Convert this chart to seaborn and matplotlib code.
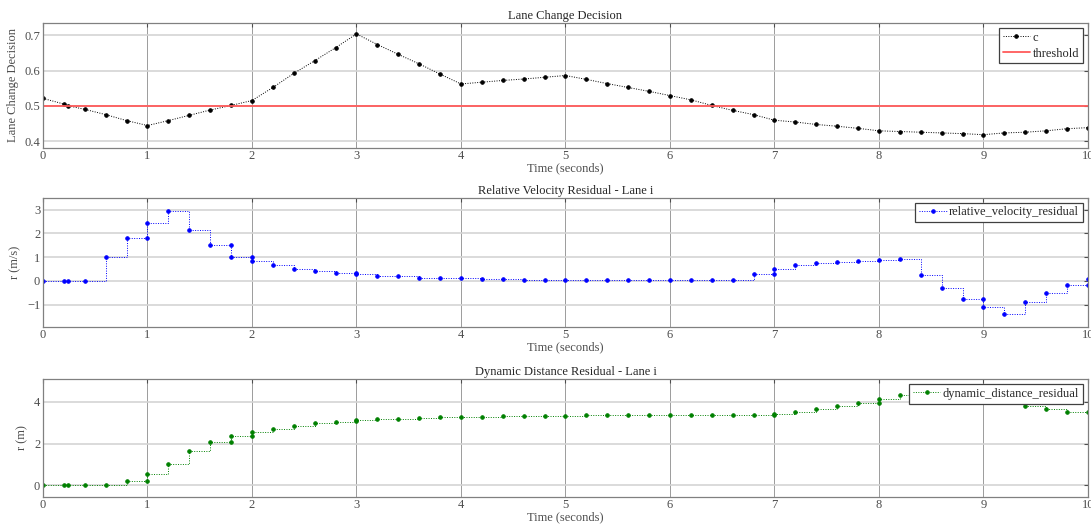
import pandas as pd
import matplotlib
matplotlib.use('Agg')
import matplotlib.pyplot as plt
import seaborn as sns

# values
t_c = [0, 0.2, 0.24, 0.4, 0.6, 0.8, 1.0, 1.2, 1.4, 1.6, 1.8, 2.0, 2.2, 2.4, 2.6, 2.8, 3.0,
       3.2, 3.4, 3.6, 3.8, 4.0, 4.2, 4.4, 4.6, 4.8, 5.0, 5.2, 5.4, 5.6, 5.8, 6.0, 6.2, 6.4,
       6.6, 6.8, 7.0, 7.2, 7.4, 7.6, 7.8, 8.0, 8.2, 8.4, 8.6, 8.8, 9.0, 9.2, 9.4, 9.6, 9.8, 10.0]
c = [0.521, 0.505, 0.500, 0.490, 0.475, 0.458, 0.444, 0.458, 0.473, 0.488, 0.501, 0.515,
     0.552, 0.592, 0.628, 0.665, 0.704, 0.674, 0.646, 0.619, 0.590, 0.562, 0.567, 0.572,
     0.576, 0.581, 0.586, 0.575, 0.563, 0.552, 0.541, 0.529, 0.517, 0.501, 0.487, 0.475,
     0.459, 0.454, 0.447, 0.442, 0.436, 0.429, 0.427, 0.425, 0.423, 0.421, 0.418, 0.423,
     0.425, 0.429, 0.435, 0.438]
threshold = 0.5

t_v = [0, 0.2, 0.24, 0.4, 0.6, 0.8, 1.0, 1.0, 1.2, 1.4, 1.6, 1.8, 1.8, 2.0, 2.0, 2.2, 2.4,
       2.6, 2.8, 3.0, 3.0, 3.2, 3.4, 3.6, 3.8, 4.0, 4.2, 4.4, 4.6, 4.8, 5.0, 5.2, 5.4, 5.6,
       5.8, 6.0, 6.2, 6.4, 6.6, 6.8, 7.0, 7.0, 7.2, 7.4, 7.6, 7.8, 8.0, 8.2, 8.4, 8.6, 8.8,
       9.0, 9.0, 9.2, 9.4, 9.6, 9.8, 10.0, 10.0]
v = [0, 0, 0, 0, 1.0, 1.8, 1.8, 2.43, 2.94, 2.14, 1.53, 1.53, 1.02, 1.02, 0.82, 0.66, 0.52,
     0.43, 0.34, 0.32, 0.29, 0.22, 0.19, 0.14, 0.13, 0.11, 0.08, 0.08, 0.06, 0.06, 0.06,
     0.03, 0.03, 0.03, 0.03, 0.03, 0.03, 0.03, 0.03, 0.29, 0.29, 0.5, 0.66, 0.74, 0.8, 0.85,
     0.88, 0.94, 0.24, -0.31, -0.77, -0.77, -1.1, -1.4, -0.9, -0.49, -0.17, -0.17, 0.08]

t_d = [0, 0.2, 0.24, 0.4, 0.6, 0.8, 1.0, 1.0, 1.2, 1.4, 1.6, 1.8, 1.8, 2.0, 2.0, 2.2, 2.4,
       2.6, 2.8, 3.0, 3.0, 3.2, 3.4, 3.6, 3.8, 4.0, 4.2, 4.4, 4.6, 4.8, 5.0, 5.2, 5.4, 5.6,
       5.8, 6.0, 6.2, 6.4, 6.6, 6.8, 7.0, 7.0, 7.2, 7.4, 7.6, 7.8, 8.0, 8.0, 8.2, 8.4, 8.6,
       8.8, 9.0, 9.0, 9.2, 9.4, 9.6, 9.8, 10.0]
d = [0, 0, 0, 0, 0, 0.18, 0.18, 0.55, 1.02, 1.63, 2.06, 2.06, 2.35, 2.35, 2.56, 2.72, 2.85,
     2.97, 3.04, 3.07, 3.13, 3.16, 3.2, 3.23, 3.26, 3.28, 3.3, 3.31, 3.34, 3.34, 3.34, 3.36,
     3.38, 3.38, 3.38, 3.38, 3.38, 3.38, 3.38, 3.38, 3.38, 3.42, 3.54, 3.66, 3.81, 3.97,
     3.97, 4.13, 4.32, 4.5, 4.45, 4.35, 4.2, 4.1, 4.0, 3.82, 3.65, 3.54, 3.52]

df_c = pd.DataFrame({'t': t_c, 'c': c})
df_v = pd.DataFrame({'t': t_v, 'v': v})
df_d = pd.DataFrame({'t': t_d, 'd': d})

sns.set_style('white')
plt.rcParams['font.family'] = ['Liberation Serif', 'DejaVu Serif']
plt.rcParams['font.size'] = 9
text_col = '#4d4d4d'

fig = plt.figure(figsize=(10.91, 5.27), dpi=100)
ax1 = fig.add_axes([0.0394, 0.7197, 0.9578, 0.2366])
ax2 = fig.add_axes([0.0394, 0.3801, 0.9578, 0.2448])
ax3 = fig.add_axes([0.0394, 0.0575, 0.9578, 0.2233])

# Lane change decision
sns.lineplot(data=df_c, x='t', y='c', ax=ax1, estimator=None, sort=False, color='black',
             linestyle=(0, (1, 1.5)), linewidth=0.7, marker='.', markersize=5,
             markeredgecolor='black', label='c')
ax1.axhline(threshold, color='#ff5a5a', linewidth=1.3, label='threshold')
ax1.set_ylim(0.381, 0.735)
ax1.set_yticks([0.4, 0.5, 0.6, 0.7])
ax1.set_title('Lane Change Decision', pad=3, fontsize=9)
ax1.set_ylabel('Lane Change Decision')

# Relative velocity residual
sns.lineplot(data=df_v, x='t', y='v', ax=ax2, estimator=None, sort=False, color='blue',
             linestyle=(0, (1, 1.5)), linewidth=0.7, marker='.', markersize=5,
             markeredgecolor='blue', drawstyle='steps-post',
             label='relative_velocity_residual')
ax2.set_ylim(-1.92, 3.5)
ax2.set_yticks([-1, 0, 1, 2, 3])
ax2.set_title('Relative Velocity Residual - Lane i', pad=3, fontsize=9)
ax2.set_ylabel('r (m/s)')

# Dynamic distance residual
sns.lineplot(data=df_d, x='t', y='d', ax=ax3, estimator=None, sort=False, color='#008000',
             linestyle=(0, (1, 1.5)), linewidth=0.7, marker='.', markersize=5,
             markeredgecolor='#008000', drawstyle='steps-post',
             label='dynamic_distance_residual')
ax3.set_ylim(-0.55, 5.1)
ax3.set_yticks([0, 2, 4])
ax3.set_title('Dynamic Distance Residual - Lane i', pad=3, fontsize=9)
ax3.set_ylabel('r (m)')

for ax in (ax1, ax2, ax3):
    ax.set_xlim(0, 10)
    ax.set_xticks(range(0, 11))
    ax.set_xlabel('Time (seconds)', labelpad=0, color=text_col)
    ax.yaxis.label.set_color(text_col)
    ax.title.set_color('#262626')
    ax.xaxis.grid(True, color='#8c8c8c', linewidth=0.6)
    ax.yaxis.grid(True, color='#d4d4d4', linewidth=1.2)
    ax.set_axisbelow(True)
    ax.tick_params(direction='in', length=3, top=True, right=True, colors=text_col,
                   labelsize=9, pad=2)
    for s in ax.spines.values():
        s.set_color('#808080')
        s.set_linewidth(0.9)
    leg = ax.legend(loc='upper right', fancybox=False, framealpha=1, edgecolor='#404040',
                    borderaxespad=0.4, handlelength=2.2, borderpad=0.3, labelspacing=0.3,
                    handletextpad=0.2)
    leg.get_frame().set_linewidth(0.9)
    for txt in leg.get_texts():
        txt.set_color('#262626')

fig.savefig('out.png', dpi=100)
